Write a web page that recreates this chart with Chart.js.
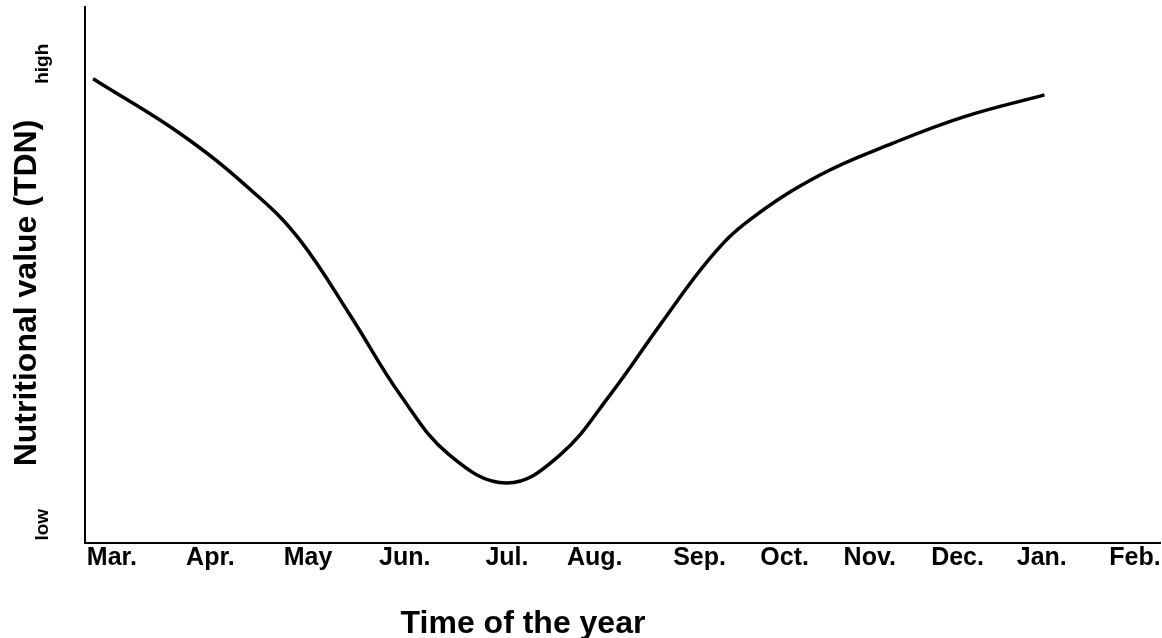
<!DOCTYPE html>
<html>
<head>
<meta charset="utf-8">
<title>Nutritional value over the year</title>
<script src="https://cdn.jsdelivr.net/npm/chart.js@4/dist/chart.umd.min.js"></script>
<style>
    html, body { margin: 0; padding: 0; background: #fff; }
    #wrap { width: 1162px; height: 638px; }
</style>
</head>
<body>
<div id="wrap"><canvas id="tdnChart" width="1162" height="638"></canvas></div>
<script>
// month labels and where they sit on the time axis (hand placed in the original)
const monthLabels = ['Mar.', 'Apr.', 'May', 'Jun.', 'Jul.', 'Aug.', 'Sep.', 'Oct.', 'Nov.', 'Dec.', 'Jan.', 'Feb.'];
const monthTicks = [0.30, 1.40, 2.49, 3.57, 4.71, 5.69, 6.86, 7.81, 8.76, 9.74, 10.68, 11.72];

// curve (time position, relative TDN 0 = low .. 100 = high)
const timePos = [0.09, 1.12, 1.95, 2.40, 2.96, 3.52, 4.07, 4.71, 5.30, 5.86, 6.42, 6.98, 7.42, 8.21, 9.02, 9.81, 10.71];
const tdnValues = [86.6, 75.7, 64.4, 56.5, 42.5, 27.6, 16.4, 11.2, 16.4, 27.6, 40.7, 53.2, 60.3, 68.7, 74.6, 79.5, 83.6];

// the two words on the value axis
const levelLabels = ['low', 'high'];
const levelValues = [3.4, 89.4];

const FONT = "'Liberation Sans', Arial, Helvetica, sans-serif";

// rotated axis texts, the way the original has them
const axisTextPlugin = {
    id: 'axisText',
    afterDraw(chart) {
        const ctx = chart.ctx;
        const yScale = chart.scales.y;
        ctx.save();
        ctx.fillStyle = '#000';

        // low / high
        ctx.font = 'bold 19px ' + FONT;
        ctx.textAlign = 'center';
        ctx.textBaseline = 'alphabetic';
        levelLabels.forEach((txt, i) => {
            ctx.save();
            ctx.translate(48, yScale.getPixelForValue(levelValues[i]));
            ctx.rotate(-Math.PI / 2);
            ctx.fillText(txt, 0, 0);
            ctx.restore();
        });

        // y title
        ctx.font = 'bold 32px ' + FONT;
        ctx.save();
        ctx.translate(36, 293);
        ctx.rotate(-Math.PI / 2);
        ctx.fillText('Nutritional value (TDN)', 0, 0);
        ctx.restore();

        // x title
        ctx.fillText('Time of the year', 523, 633);
        ctx.restore();
    }
};

document.addEventListener('DOMContentLoaded', () => {
    const ctx = document.getElementById('tdnChart').getContext('2d');
    new Chart(ctx, {
        type: 'line',
        data: {
            datasets: [{
                data: timePos.map((t, i) => ({ x: t, y: tdnValues[i] })),
                borderColor: '#000',
                borderWidth: 3.5,
                pointRadius: 0,
                fill: false,
                tension: 0.4
            }]
        },
        options: {
            responsive: false,
            animation: false,
            layout: {
                padding: { left: 85, top: 7, right: 2, bottom: 65 }
            },
            plugins: {
                legend: { display: false },
                tooltip: { enabled: false }
            },
            scales: {
                x: {
                    type: 'linear',
                    min: 0,
                    max: 12,
                    afterBuildTicks: scale => {
                        scale.ticks = monthTicks.map(v => ({ value: v }));
                    },
                    grid: { display: false, drawTicks: false },
                    border: { display: true, color: '#000', width: 2 },
                    ticks: {
                        autoSkip: false,
                        maxRotation: 0,
                        padding: 0,
                        color: '#000',
                        font: { family: FONT, size: 25, weight: 'bold' },
                        callback: (value, index) => monthLabels[index]
                    }
                },
                y: {
                    min: 0,
                    max: 100,
                    grid: { display: false, drawTicks: false },
                    border: { display: true, color: '#000', width: 2 },
                    ticks: { display: false }
                }
            }
        },
        plugins: [axisTextPlugin]
    });
});
</script>
</body>
</html>
